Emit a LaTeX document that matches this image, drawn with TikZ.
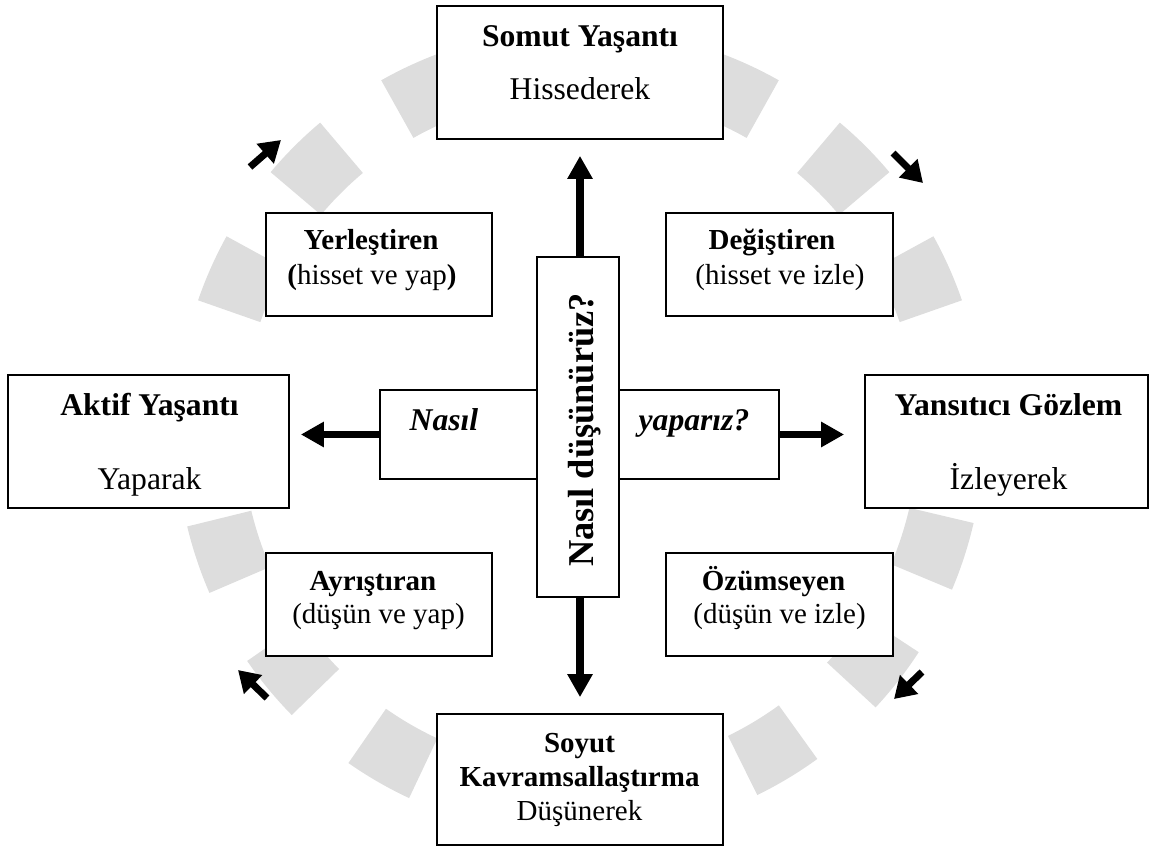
\documentclass[tikz,border=0pt]{standalone}
\usepackage{fontspec}
\setmainfont{Liberation Serif}
\usetikzlibrary{arrows.meta}
\usetikzlibrary{shapes,positioning}
\tikzset{>={Triangle[length=0.46cm,width=0.48cm]}}
\definecolor{ringGray}{RGB}{221,221,221}
\colorlet{penColor}{black}
\tikzset{
	box/.style={draw=penColor, line width=1pt, fill=white, inner sep=0pt},
	bigBox/.style={box, minimum width=5.72cm, minimum height=2.66cm},
	smallBox/.style={box, minimum width=4.53cm, minimum height=2.06cm},
	bigHead/.style={anchor=base, inner sep=0pt, font=\fontsize{18}{21}\selectfont\bfseries},
	bigBody/.style={anchor=base, inner sep=0pt, font=\fontsize{18}{21}\selectfont},
	smallHead/.style={anchor=base, inner sep=0pt, font=\fontsize{16.5}{19}\selectfont\bfseries},
	smallBody/.style={anchor=base, inner sep=0pt, font=\fontsize{16.5}{19}\selectfont},
	bigArrow/.style={->, line width=4pt, penColor},
	cycleArrow/.style={-{Triangle[length=0.42cm,width=0.50cm]}, line width=4pt, penColor},
	ringDash/.style={ringGray, line width=1.32cm}
}

\begin{document}
\begin{tikzpicture}
	\useasboundingbox (0,0) rectangle (23,16.96);
	\coordinate (ring) at (11.6,8.32);
	\foreach \a in {24,45,65.5,114.5,135,156,198.5,219.5,240,301,322,342}
		\draw[ringDash] (ring) ++(\a-5:7.42) arc[start angle=\a-5, end angle=\a+5, radius=7.42];

	\node[bigBox] (somut) at (11.6,15.51) {};
	\node[bigHead] (somutH) at (11.6,16.02) {Somut Yaşantı};
	\node[bigBody] (somutB) at (11.6,14.96) {Hissederek};

	\node[smallBox] (yerles) at (7.58,11.67) {};
	\node[smallHead] (yerlesH) at (7.42,11.96) {Yerleştiren};
	\node[smallBody] (yerlesB) at (7.44,11.26) {\textbf{(}hisset ve yap\textbf{)}};

	\node[smallBox] (degis) at (15.59,11.67) {};
	\node[smallHead] (degisH) at (15.44,11.96) {Değiştiren};
	\node[smallBody] (degisB) at (15.6,11.26) {(hisset ve izle)};

	\node[bigBox, minimum width=5.62cm] (aktif) at (2.97,8.13) {};
	\node[bigHead] (aktifH) at (2.99,8.66) {Aktif Yaşantı};
	\node[bigBody] (aktifB) at (2.99,7.18) {Yaparak};

	\node[bigBox, minimum width=5.66cm] (yansit) at (20.13,8.13) {};
	\node[bigHead] (yansitH) at (20.17,8.66) {Yansıtıcı Gözlem};
	\node[bigBody] (yansitB) at (20.17,7.18) {İzleyerek};

	\node[smallBox] (ayris) at (7.58,4.87) {};
	\node[smallHead] (ayrisH) at (7.46,5.16) {Ayrıştıran};
	\node[smallBody] (ayrisB) at (7.57,4.5) {(düşün ve yap)};

	\node[smallBox] (ozums) at (15.59,4.87) {};
	\node[smallHead] (ozumsH) at (15.47,5.16) {Özümseyen};
	\node[smallBody] (ozumsB) at (15.59,4.5) {(düşün ve izle)};

	\node[bigBox, minimum height=2.62cm] (soyut) at (11.6,1.37) {};
	\node[smallHead] (soyutH) at (11.59,1.92) {Soyut};
	\node[smallHead] (soyutK) at (11.59,1.24) {Kavramsallaştırma};
	\node[smallBody] (soyutB) at (11.59,0.56) {Düşünerek};

	\node[box, minimum width=7.98cm, minimum height=1.78cm] (do) at (11.59,8.27) {};
	\node[bigHead, font=\fontsize{18}{21}\selectfont\bfseries\itshape] (doL) at (8.88,8.36) {Nasıl};
	\node[bigHead, font=\fontsize{18}{21}\selectfont\bfseries\itshape] (doR) at (13.88,8.36) {yaparız?};

	\node[box, minimum width=1.64cm, minimum height=6.80cm] (think) at (11.56,8.42) {};
	\node[bigHead, rotate=90, font=\fontsize{20.7}{24}\selectfont\bfseries] (thinkT) at (11.86,8.36) {Nasıl düşünürüz?};

	\draw[bigArrow, shorten >=0.32cm] (think.north -| somut) -- (somut.south);
	\draw[bigArrow, shorten >=0.32cm] (think.south -| soyut) -- (soyut.north);
	\draw[bigArrow, shorten >=0.22cm] (do.west) -- (do.west -| aktif.east);
	\draw[bigArrow, shorten >=0.40cm] (do.east) -- (do.east -| yansit.west);

	\coordinate (c1s) at (5.0,13.62);   \coordinate (c1e) at (5.62,14.16);
	\coordinate (c2s) at (17.86,13.90); \coordinate (c2e) at (18.46,13.30);
	\coordinate (c3s) at (18.44,3.52);  \coordinate (c3e) at (17.88,2.98);
	\coordinate (c4s) at (5.34,3.00);   \coordinate (c4e) at (4.76,3.56);
	\draw[cycleArrow] (c1s) -- (c1e);
	\draw[cycleArrow] (c2s) -- (c2e);
	\draw[cycleArrow] (c3s) -- (c3e);
	\draw[cycleArrow] (c4s) -- (c4e);
\end{tikzpicture}
\end{document}
